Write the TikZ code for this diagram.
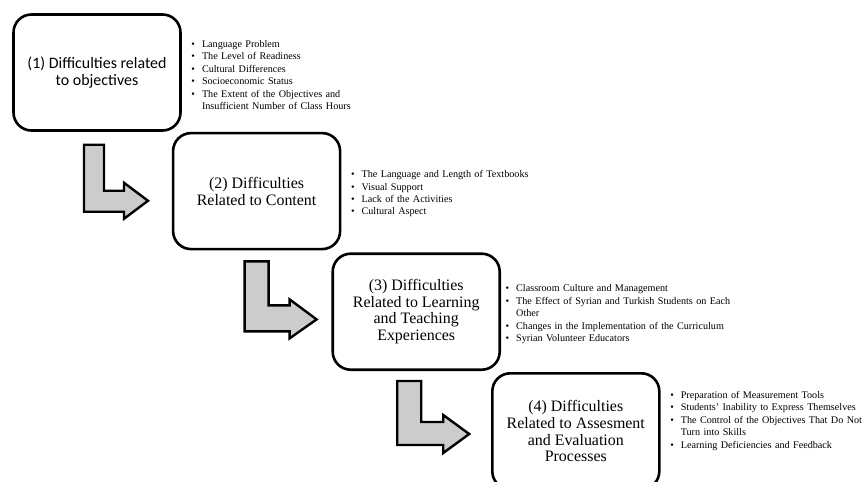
\documentclass[tikz,border=0pt]{standalone}
\usepackage{fontspec}
\setmainfont{Liberation Serif}
\newfontfamily\carlito{Carlito}
\usepackage{enumitem}
\usetikzlibrary{positioning, calc}

\setlist[itemize]{label=\textbullet, leftmargin=20bp, labelsep=7bp, itemsep=0pt, topsep=0pt, parsep=0pt, partopsep=0pt}

\begin{document}
\begin{tikzpicture}[
        x=1bp, y=-1bp,
        stage/.style={draw, line width=2.6bp, rounded corners=18bp, minimum width=167bp, minimum height=116bp, align=center, font=\fontsize{16}{16.8}\selectfont},
        issues/.style={anchor=west, inner sep=0pt, text width=240bp, font=\fontsize{10.2}{12.5}\selectfont},
        flow/.style={draw, line width=2.4bp, fill=black!20, line join=miter}
    ]
    \useasboundingbox (0,0) rectangle (864,482);

    % Stufen
    \node (obj) [stage, font=\carlito\fontsize{16}{17}\selectfont] at (97,72.5) {(1) Difficulties related\\to objectives};

    \node (content) [stage, below right=0bp and -10bp of obj] {(2) Difficulties\\Related to Content};

    \node (teach) [stage, below right=2bp and -10bp of content] {(3) Difficulties\\Related to Learning\\and Teaching\\Experiences};

    \node (eval) [stage, below right=1bp and -10bp of teach] {(4) Difficulties\\Related to Assesment\\and Evaluation\\Processes};

    % Listen
    \node (objlist) [issues, right=0bp of obj] {\begin{itemize}
        \item Language Problem
        \item The Level of Readiness
        \item Cultural Differences
        \item Socioeconomic Status
        \item The Extent of the Objectives and\\Insufficient Number of Class Hours
    \end{itemize}};

    \node (contentlist) [issues, right=0bp of content] {\begin{itemize}
        \item The Language and Length of Textbooks
        \item Visual Support
        \item Lack of the Activities
        \item Cultural Aspect
    \end{itemize}};

    \node (teachlist) [issues, right=-5bp of teach] {\begin{itemize}
        \item Classroom Culture and Management
        \item The Effect of Syrian and Turkish Students on Each\\Other
        \item Changes in the Implementation of the Curriculum
        \item Syrian Volunteer Educators
    \end{itemize}};

    \node (evallist) [issues, right=0bp of eval, yshift=13bp] {\begin{itemize}
        \item Preparation of Measurement Tools
        \item Students' Inability to Express Themselves
        \item The Control of the Objectives That Do Not\\Turn into Skills
        \item Learning Deficiencies and Feedback
    \end{itemize}};

    % Pfeile
    \draw[flow] ($(obj.south)+(-13,13)$) -- ++(20,0) -- ++(0,46) -- ++(20,0) -- ++(0,-8) -- ++(24,18) -- ++(-24,18) -- ++(0,-7) -- ++(-40,0) -- cycle;
    \draw[flow] ($(content.south)+(-12,11)$) -- ++(24,0) -- ++(0,44) -- ++(21,0) -- ++(0,-6) -- ++(27,20) -- ++(-27,19) -- ++(0,-7) -- ++(-45,0) -- cycle;
    \draw[flow] ($(teach.south)+(-19,10)$) -- ++(24,0) -- ++(0,41) -- ++(22,0) -- ++(0,-7) -- ++(26,19) -- ++(-26,19) -- ++(0,-8) -- ++(-46,0) -- cycle;

\end{tikzpicture}
\end{document}
